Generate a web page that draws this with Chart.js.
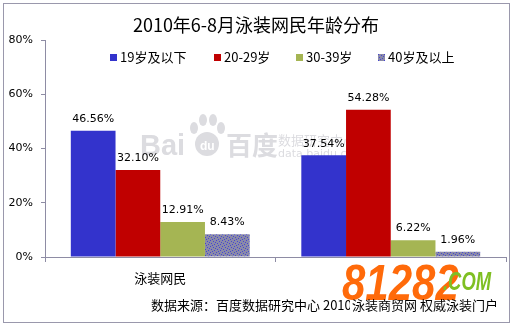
<!DOCTYPE html>
<html lang="zh">
<head>
<meta charset="UTF-8">
<title>2010年6-8月泳装网民年龄分布</title>
<script src="https://cdn.jsdelivr.net/npm/chart.js"></script>
<style>
  html, body { margin: 0; padding: 0; background: #fff; }
  #wrap { width: 512px; height: 326px; }
</style>
</head>
<body>
<div id="wrap"><canvas id="ageChart" width="512" height="326"></canvas></div>
<script>
// chart data
const categories = ['泳装网民', ''];
const seriesNames = ['19岁及以下', '20-29岁', '30-39岁', '40岁及以上'];
const under19 = [46.56, 37.54];
const age20to29 = [32.10, 54.28];
const age30to39 = [12.91, 6.22];
const over40 = [8.43, 1.96];
const yTicks = [0, 20, 40, 60, 80];

const titleText = '2010年6-8月泳装网民年龄分布';
const sourceText = '数据来源：百度数据研究中心 2010';

const CJK = '"Noto Sans CJK SC", "Noto Sans", sans-serif';
const NUM = '"DejaVu Sans", sans-serif';

// dotted fill for the 40+ series
function dotPattern() {
    const c = document.createElement('canvas');
    c.width = 6; c.height = 6;
    const g = c.getContext('2d');
    g.fillStyle = '#8a8aa8';
    g.fillRect(0, 0, 6, 6);
    g.fillStyle = '#4646d2';
    [[0,0],[3,1],[1,3],[4,4],[5,2],[2,5]].forEach(p => g.fillRect(p[0], p[1], 1, 1));
    return g.createPattern(c, 'repeat');
}

const colors = ['#3333cc', '#c00000', '#a5b553', dotPattern()];
const legendSwatch = ['#3333cc', '#c00000', '#a5b553', '#7070b8'];

const frame = {
    id: 'frame',
    beforeDraw(chart) {
        const ctx = chart.ctx;
        ctx.save();
        ctx.fillStyle = '#ffffff';
        ctx.fillRect(0, 0, chart.width, chart.height);
        ctx.strokeStyle = '#9a98ac';
        ctx.lineWidth = 1;
        ctx.strokeRect(3.5, 3.5, 506, 319);
        ctx.restore();
    },
    beforeDatasetsDraw(chart) {
        // faint baidu watermark
        const ctx = chart.ctx;
        ctx.save();
        ctx.fillStyle = '#dcdce0';
        ctx.font = 'bold 29px "Liberation Sans", sans-serif';
        ctx.textBaseline = 'alphabetic';
        ctx.fillText('Bai', 140, 155);
        ctx.beginPath();
        ctx.arc(207, 144, 12, 0, Math.PI * 2);
        ctx.fill();
        [[194, 128, 4], [203, 120, 4], [213, 120, 4], [221, 128, 4]].forEach(d => {
            ctx.beginPath();
            ctx.ellipse(d[0], d[1], d[2], d[2] + 2, 0, 0, Math.PI * 2);
            ctx.fill();
        });
        ctx.fillStyle = '#ffffff';
        ctx.font = 'bold 12px "Liberation Sans", sans-serif';
        ctx.fillText('du', 200, 150);
        ctx.fillStyle = '#dcdce0';
        ctx.font = 'bold 26px ' + CJK;
        ctx.fillText('百度', 226, 155);
        ctx.font = '13px ' + CJK;
        ctx.fillText('数据研究中心', 278, 145);
        ctx.font = '11px ' + NUM;
        ctx.fillText('data.baidu.com', 278, 157);
        ctx.restore();
    },
    afterDatasetsDraw(chart) {
        const ctx = chart.ctx;
        ctx.save();
        ctx.font = '11px ' + NUM;
        ctx.fillStyle = '#000';
        ctx.textAlign = 'center';
        ctx.textBaseline = 'bottom';
        chart.data.datasets.forEach((ds, i) => {
            chart.getDatasetMeta(i).data.forEach((bar, j) => {
                ctx.fillText(ds.data[j].toFixed(2) + '%', bar.x, bar.y - 6);
            });
        });
        ctx.restore();
    },
    afterDraw(chart) {
        const ctx = chart.ctx;
        ctx.save();
        // title
        ctx.fillStyle = '#000';
        ctx.font = '18px ' + CJK;
        ctx.textAlign = 'center';
        ctx.textBaseline = 'middle';
        ctx.fillText(titleText, 256, 25);
        // legend
        ctx.textAlign = 'left';
        ctx.font = '13px ' + CJK;
        const lx = [110, 214, 296, 378];
        seriesNames.forEach((name, i) => {
            ctx.fillStyle = i === 3 ? colors[3] : legendSwatch[i];
            ctx.fillRect(lx[i], 54, 7, 7);
            ctx.fillStyle = '#000';
            ctx.fillText(name, lx[i] + 10, 57);
        });
        // source line, cut where the site mark starts
        ctx.save();
        ctx.beginPath();
        ctx.rect(0, 290, 350, 30);
        ctx.clip();
        ctx.font = '13px ' + CJK;
        ctx.fillText(sourceText, 151, 305);
        ctx.restore();
        // site watermark
        ctx.save();
        ctx.textBaseline = 'alphabetic';
        ctx.translate(342, 300);
        ctx.scale(1, 1.2);
        ctx.font = 'italic bold 42px "Liberation Sans", sans-serif';
        ctx.fillStyle = '#ff6a0a';
        ctx.fillText('81282', 0, 0);
        ctx.restore();
        ctx.save();
        ctx.textBaseline = 'alphabetic';
        ctx.translate(443, 290);
        ctx.scale(0.8, 1.1);
        ctx.font = 'italic bold 23px "Liberation Sans", sans-serif';
        ctx.fillStyle = '#7fbf22';
        ctx.fillText('.COM', 0, 0);
        ctx.restore();
        ctx.fillStyle = '#000';
        ctx.font = '13px ' + CJK;
        ctx.textBaseline = 'middle';
        ctx.fillText('泳装商贸网 权威泳装门户', 352, 305);
        ctx.restore();
    }
};

new Chart(document.getElementById('ageChart'), {
    type: 'bar',
    data: {
        labels: categories,
        datasets: [
            { label: seriesNames[0], data: under19, backgroundColor: colors[0] },
            { label: seriesNames[1], data: age20to29, backgroundColor: colors[1] },
            { label: seriesNames[2], data: age30to39, backgroundColor: colors[2] },
            { label: seriesNames[3], data: over40, backgroundColor: colors[3] }
        ]
    },
    options: {
        responsive: false,
        animation: false,
        devicePixelRatio: 1,
        layout: { padding: { top: 40, left: 0, right: 6, bottom: 0 } },
        categoryPercentage: 0.776,
        barPercentage: 1,
        plugins: {
            legend: { display: false },
            title: { display: false },
            tooltip: { enabled: false }
        },
        scales: {
            x: {
                afterFit(axis) { axis.height = 69; },
                grid: { display: true, drawOnChartArea: false, offset: true, tickLength: 5, color: '#8e8ca4' },
                border: { color: '#8e8ca4' },
                ticks: { color: '#000', font: { family: CJK, size: 13 }, padding: 8, maxRotation: 0 }
            },
            y: {
                min: 0,
                max: 80,
                afterFit(axis) { axis.width = 45; },
                afterBuildTicks(axis) { axis.ticks = yTicks.map(v => ({ value: v })); },
                grid: { display: true, drawOnChartArea: false, tickLength: 4, color: '#8e8ca4' },
                border: { color: '#8e8ca4' },
                ticks: {
                    color: '#000',
                    font: { family: NUM, size: 11 },
                    padding: 8,
                    callback: v => v + '%'
                }
            }
        }
    },
    plugins: [frame]
});
</script>
</body>
</html>
